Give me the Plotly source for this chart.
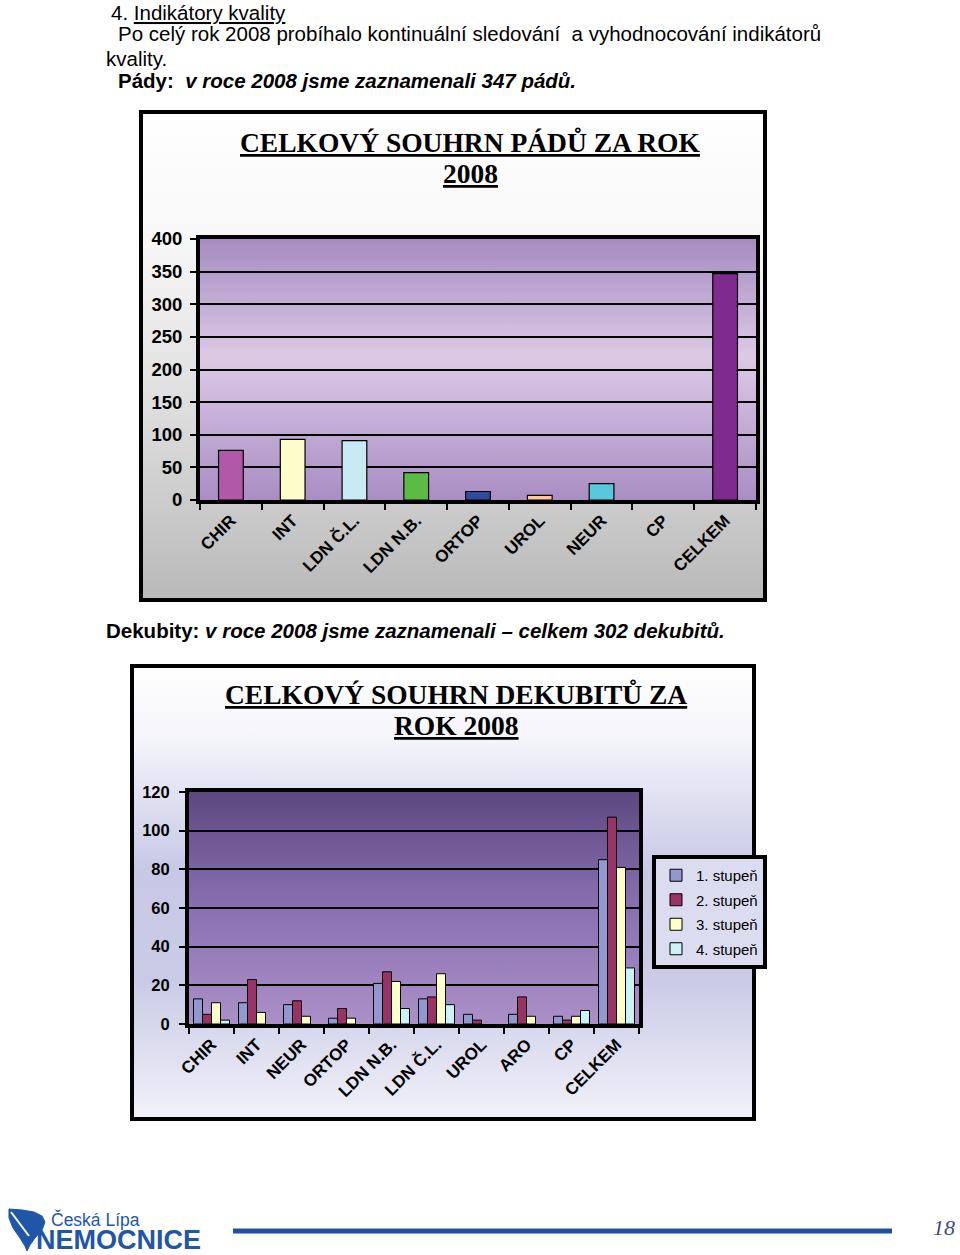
import base64
import plotly.graph_objects as go

W, H = 960, 1255

# ---------------- data ----------------
pady_categories = ["CHIR", "INT", "LDN Č.L.", "LDN N.B.", "ORTOP", "UROL", "NEUR", "CP", "CELKEM"]
pady_values = [76, 93, 91, 42, 13, 7, 25, 0, 347]
pady_colors = ["#b158a8", "#fffccc", "#c8eaf2", "#5bbb45", "#2f4c9c", "#fbc896", "#5ac8dc", "#999999", "#7f2a8e"]
pady_ticks = [0, 50, 100, 150, 200, 250, 300, 350, 400]

dek_categories = ["CHIR", "INT", "NEUR", "ORTOP", "LDN N.B.", "LDN Č.L.", "UROL", "ARO", "CP", "CELKEM"]
dek_series_names = ["1. stupeň", "2. stupeň", "3. stupeň", "4. stupeň"]
dek_stupen1 = [13, 11, 10, 3, 21, 13, 5, 5, 4, 85]
dek_stupen2 = [5, 23, 12, 8, 27, 14, 2, 14, 2, 107]
dek_stupen3 = [11, 6, 4, 3, 22, 26, 0, 4, 4, 81]
dek_stupen4 = [2, 0, 0, 0, 8, 10, 0, 0, 7, 29]
dek_colors = ["#9297cf", "#993366", "#ffffcc", "#ccf2f5"]
dek_ticks = [0, 20, 40, 60, 80, 100, 120]


def px(x):
    return x / W


def py(y):
    return 1 - y / H


def grad_src(stops):
    st = "".join(f'<stop offset="{o}" stop-color="{c}"/>' for o, c in stops)
    svg = ('<svg xmlns="http://www.w3.org/2000/svg" width="10" height="100" viewBox="0 0 10 100" '
           'preserveAspectRatio="none"><defs><linearGradient id="g" x1="0" y1="0" x2="0" y2="1">'
           f'{st}</linearGradient></defs><rect width="10" height="100" fill="url(#g)"/></svg>')
    return "data:image/svg+xml;base64," + base64.b64encode(svg.encode()).decode()


def grad_image(x0, y0, x1, y1, stops):
    return dict(source=grad_src(stops), xref="paper", yref="paper",
                x=px(x0), y=py(y0), sizex=px(x1) - px(x0), sizey=py(y0) - py(y1),
                sizing="stretch", xanchor="left", yanchor="top", layer="below")


def outline_widths(vals, w):
    return [0 if v == 0 else w for v in vals]


fig = go.Figure()

# chart 1 bars
fig.add_trace(go.Bar(
    x=pady_categories, y=pady_values,
    marker=dict(color=pady_colors, line=dict(color="black", width=outline_widths(pady_values, 1.2))),
    width=0.4, showlegend=False, xaxis="x", yaxis="y"))

# chart 2 grouped bars
for name, vals, col in zip(dek_series_names, [dek_stupen1, dek_stupen2, dek_stupen3, dek_stupen4], dek_colors):
    fig.add_trace(go.Bar(
        x=dek_categories, y=vals, name=name, legendgroup=name,
        marker=dict(color=col, line=dict(color="black", width=outline_widths(vals, 1))),
        xaxis="x2", yaxis="y2"))

sans = "Liberation Sans, Arial, sans-serif"
serif = "Liberation Serif, Times New Roman, serif"

axis_common = dict(showline=True, mirror=True, linecolor="black", linewidth=4, automargin=False,
                   ticks="outside", tickcolor="black", tickwidth=1.5, ticklen=6, fixedrange=True)

fig.update_layout(
    width=W, height=H, margin=dict(l=0, r=0, t=0, b=0, autoexpand=False),
    paper_bgcolor="white", plot_bgcolor="rgba(0,0,0,0)",
    barmode="group", bargap=0.2, bargroupgap=0,
    xaxis=dict(domain=[px(200), px(756)], anchor="y", type="category",
               tickson="boundaries", tickangle=-45,
               tickfont=dict(family=sans, size=17, color="black", weight="bold"),
               **axis_common),
    yaxis=dict(domain=[py(500), py(239)], anchor="x", range=[0, 400], tickvals=pady_ticks,
               showgrid=True, gridcolor="black", gridwidth=1.6, zeroline=False,
               ticklabelstandoff=4,
               tickfont=dict(family=sans, size=18.5, color="black", weight="bold"),
               **axis_common),
    xaxis2=dict(domain=[px(189), px(639)], anchor="y2", type="category",
                tickson="boundaries", tickangle=-45,
                tickfont=dict(family=sans, size=17, color="black", weight="bold"),
                **axis_common),
    yaxis2=dict(domain=[py(1024), py(792)], anchor="x2", range=[0, 120], tickvals=dek_ticks,
                showgrid=True, gridcolor="black", gridwidth=1.6, zeroline=False,
                ticklabelstandoff=6,
                tickfont=dict(family=sans, size=16.5, color="black", weight="bold"),
                **axis_common),
    legend=dict(x=px(652), y=py(855), xanchor="left", yanchor="top",
                bgcolor="#dcdcf0", bordercolor="black", borderwidth=4,
                font=dict(family=sans, size=15, color="black"),
                tracegroupgap=2, traceorder="grouped", itemwidth=30),
    images=[
        grad_image(140, 111, 766, 601, [(0, "#ffffff"), (0.25, "#f8f8f8"), (0.6, "#dedede"), (1, "#b9b9b9")]),
        grad_image(200, 239, 756, 500, [(0, "#a68bc0"), (0.45, "#dccae5"), (1, "#a98dc4")]),
        grad_image(131, 665, 755, 1120, [(0, "#ffffff"), (0.15, "#f6f6fb"), (0.45, "#c8c8e6"),
                                         (0.7, "#cbcbe7"), (1, "#f2f2f9")]),
        grad_image(189, 792, 639, 1024, [(0, "#5d4880"), (0.5, "#8a70b0"), (1, "#ab90c8")]),
    ],
)

shapes = []
# frames
shapes.append(dict(type="rect", xref="paper", yref="paper", x0=px(141), y0=py(112), x1=px(765), y1=py(600),
                   line=dict(color="black", width=4), fillcolor="rgba(0,0,0,0)", layer="below"))
shapes.append(dict(type="rect", xref="paper", yref="paper", x0=px(132), y0=py(666), x1=px(754), y1=py(1119),
                   line=dict(color="black", width=4), fillcolor="rgba(0,0,0,0)", layer="below"))
# footer line
shapes.append(dict(type="line", xref="paper", yref="paper", x0=px(233), y0=py(1231), x1=px(892), y1=py(1231),
                   line=dict(color="#1f4f9f", width=5)))
# logo leaf
leaf_pts = [(9, 1209), (22, 1210), (34, 1212), (42, 1216), (45, 1222), (42, 1230), (35, 1238),
            (30, 1245), (27, 1251), (25, 1246), (20, 1238), (13, 1228), (9, 1218)]
path = "M " + " L ".join(f"{px(x):.5f},{py(y):.5f}" for x, y in leaf_pts) + " Z"
shapes.append(dict(type="path", xref="paper", yref="paper", path=path,
                   fillcolor="#1f56a8", line=dict(color="#1f56a8", width=1)))
vein = f"M {px(11):.5f},{py(1212):.5f} L {px(29):.5f},{py(1236):.5f}"
shapes.append(dict(type="path", xref="paper", yref="paper", path=vein,
                   line=dict(color="white", width=2)))
fig.update_layout(shapes=shapes)


def ann(text, x, y, size, family=sans, color="black", xanchor="left", bold=False, italic=False):
    return dict(text=text, xref="paper", yref="paper", x=px(x), y=py(y), xanchor=xanchor, yanchor="middle",
                showarrow=False, font=dict(family=family, size=size, color=color,
                                           weight="bold" if bold else "normal",
                                           style="italic" if italic else "normal"))


annotations = [
    ann("4. <u>Indikátory kvality</u>", 109, 12, 20.5),
    ann("Po celý rok 2008 probíhalo kontinuální sledování  a vyhodnocování indikátorů", 116, 34, 20.5),
    ann("kvality.", 104, 58, 20.5),
    ann("<b>Pády:  <i>v roce 2008 jsme zaznamenali 347 pádů.</i></b>", 116, 81, 20.5),
    ann("<u>CELKOVÝ SOUHRN PÁDŮ ZA ROK</u>", 470, 143, 27.5, family=serif, xanchor="center", bold=True),
    ann("<u>2008</u>", 470, 174, 27.5, family=serif, xanchor="center", bold=True),
    ann("<b>Dekubity: <i>v roce 2008 jsme zaznamenali – celkem 302 dekubitů.</i></b>", 104, 630, 20.5),
    ann("<u>CELKOVÝ SOUHRN DEKUBITŮ ZA</u>", 456, 695, 27.5, family=serif, xanchor="center", bold=True),
    ann("<u>ROK 2008</u>", 456, 725, 27.5, family=serif, xanchor="center", bold=True),
    ann("Česká Lípa", 49, 1219, 17.5, color="#1f56a8"),
    ann("NEMOCNICE", 34, 1240, 27, color="#1f56a8", bold=True),
    ann("18", 957, 1227, 22, family=serif, color="#3c4f78", xanchor="right", italic=True),
]
fig.update_layout(annotations=annotations)

fig.write_html("out.html", config={"displayModeBar": False},
               post_script="document.body.style.margin='0px';")
